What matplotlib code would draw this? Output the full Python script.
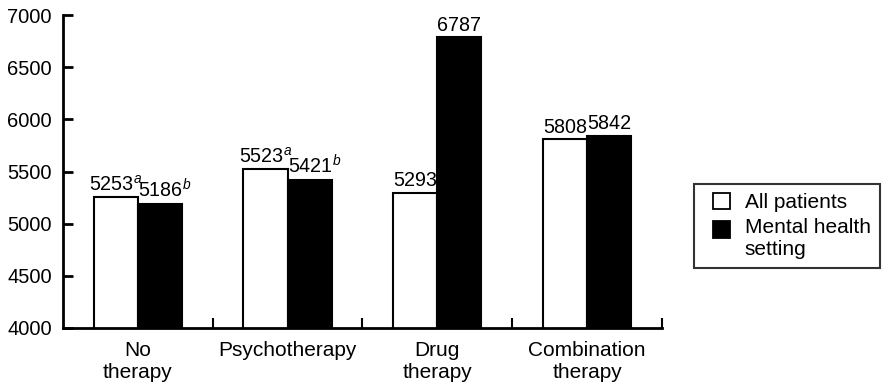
import numpy as np
import matplotlib
matplotlib.use("Agg")
import matplotlib.pyplot as plt
from matplotlib.patches import Rectangle, Patch
from matplotlib.legend_handler import HandlerPatch

plt.rcParams["font.family"] = ["Liberation Sans", "DejaVu Sans"]
plt.rcParams["mathtext.fontset"] = "custom"
plt.rcParams["mathtext.rm"] = "Liberation Sans"
plt.rcParams["mathtext.it"] = "Liberation Sans:italic"

# data
categories = ["No\ntherapy", "Psychotherapy", "Drug\ntherapy", "Combination\ntherapy"]
all_patients = [5253, 5523, 5293, 5808]
mental_health = [5186, 5421, 6787, 5842]
all_marks = ["a", "a", "", ""]
mental_marks = ["b", "b", "", ""]
series_names = ["All patients", "Mental health\nsetting"]

fig = plt.figure(figsize=(8.85, 3.89), dpi=100)
ax = fig.add_axes([0.071, 0.157, 0.748 - 0.071, 0.961 - 0.157])

x = np.arange(len(categories))
w = 0.295

ax.bar(x - w / 2, all_patients, w, color="white", edgecolor="black", linewidth=1.5)
ax.bar(x + w / 2, mental_health, w, color="black", edgecolor="black", linewidth=1.5)


def label(xs, vals, marks, shift):
    for xi, v, m in zip(xs, vals, marks):
        txt = f"{v}" + (rf"$^{{{m}}}$" if m else "")
        ax.annotate(txt, (xi, v), xytext=(shift if m else 0, 2),
                    textcoords="offset points", ha="center", va="bottom",
                    fontsize=14.2)


label(x - w / 2, all_patients, all_marks, 0)
label(x + w / 2, mental_health, mental_marks, 3.5)

ax.set_xlim(-0.5, len(categories) - 0.5)
ax.set_ylim(4000, 7000)
ax.set_yticks(np.arange(4000, 7001, 500))
ax.set_xticks(x)
ax.set_xticklabels(categories, fontsize=15)
ax.set_xticks(np.arange(0.5, len(categories), 1), minor=True)

ax.tick_params(axis="y", direction="in", length=7, width=2, pad=8, labelsize=14.5)
ax.tick_params(axis="x", which="major", length=0, pad=9.5)
ax.tick_params(axis="x", which="minor", direction="in", length=7, width=1.5)

for s in ["top", "right"]:
    ax.spines[s].set_visible(False)
for s in ["left", "bottom"]:
    ax.spines[s].set_linewidth(2)


def square(dy):
    def make(legend, orig_handle, xdescent, ydescent, width, height, fontsize):
        size = 12.2
        return Rectangle((-xdescent + width - size, -ydescent + (height - size) / 2 + dy),
                         size, size)
    return make


h1 = Patch(facecolor="white", edgecolor="black", linewidth=1.3)
h2 = Patch(facecolor="black", edgecolor="black", linewidth=1.3)
leg = fig.legend([h1, h2], series_names, loc="center left",
                 bbox_to_anchor=(0.784, 0.419), frameon=True, fancybox=False,
                 edgecolor="black", fontsize=15, handlelength=1.29,
                 handleheight=0.81, handletextpad=0.72, borderaxespad=0,
                 borderpad=0.43, labelspacing=0.28,
                 handler_map={h1: HandlerPatch(patch_func=square(0)),
                              h2: HandlerPatch(patch_func=square(7))})
leg.get_frame().set_linewidth(1.5)

fig.savefig("out.png", dpi=100)
